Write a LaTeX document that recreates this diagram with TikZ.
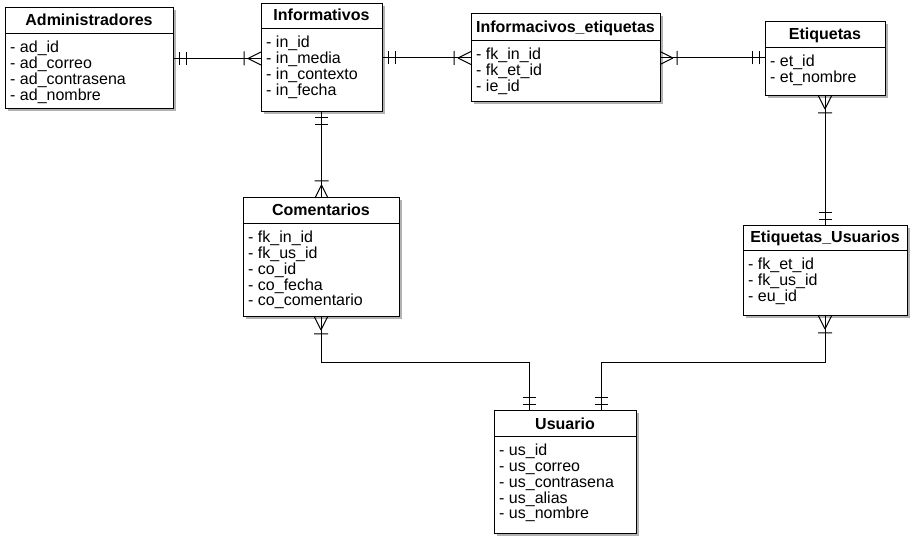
\documentclass[tikz,border=0pt]{standalone}
\usepackage{fontspec}
\setmainfont{Liberation Sans}
\usetikzlibrary{shadows,calc}
\tikzset{
  erframe/.style={draw=black, line width=1pt, fill=white, inner sep=0pt, outer sep=0pt,
    anchor=north west,
    drop shadow={shadow xshift=2.5pt, shadow yshift=-2.5pt, opacity=0.3, fill=black}},
  ertitle/.style={font=\fontsize{16}{16}\selectfont\bfseries, inner sep=0pt, anchor=base},
  erattr/.style={font=\fontsize{16}{15.8}\selectfont, inner sep=0pt, anchor=north west, align=left},
  rel/.style={draw=black, line width=1pt},
  one/.pic={\draw[rel] (6,-6.5)--(6,6.5) (13,-6.5)--(13,6.5);},
  many/.pic={\draw[rel] (17,-7)--(17,7) (13,0)--(0,-6.5) (13,0)--(0,6.5);},
}
% name, x1, y1, x2, y2, header y, title, attributes
\newcommand\ertable[8]{%
  \node[erframe, minimum width={#4-#2}, minimum height={#5-#3}] (#1) at (#2,#3) {};
  \draw[line width=0.9pt] (#2,#6) -- (#4,#6);
  \node[ertitle] (#1-t) at ({(#2+#4)/2},#6-7) {#7};
  \node[erattr] (#1-a) at (#2+5,#6+8) {#8};
}
\begin{document}
\begin{tikzpicture}[x=1pt,y=-1pt]
\useasboundingbox[fill=white] (0,0) rectangle (919,545);

\ertable{adm}{5}{8}{173}{109}{33}{Administradores}{- ad\_id\\- ad\_correo\\- ad\_contrasena\\- ad\_nombre}
\ertable{inf}{261}{4}{382}{112}{28}{Informativos}{- in\_id\\- in\_media\\- in\_contexto\\- in\_fecha}
\ertable{ie}{471}{14}{660}{102}{40}{Informacivos\_etiquetas}{- fk\_in\_id\\- fk\_et\_id\\- ie\_id}
\ertable{etq}{765}{22}{885}{96}{47}{Etiquetas}{- et\_id\\- et\_nombre}
\ertable{com}{243}{198}{399}{317}{223}{Comentarios}{- fk\_in\_id\\- fk\_us\_id\\- co\_id\\- co\_fecha\\- co\_comentario}
\ertable{eu}{743}{226}{907}{316}{250}{Etiquetas\_Usuarios}{- fk\_et\_id\\- fk\_us\_id\\- eu\_id}
\ertable{usu}{494}{411}{636}{533}{436}{Usuario}{- us\_id\\- us\_correo\\- us\_contrasena\\- us\_alias\\- us\_nombre}

% Administradores -- Informativos
\coordinate (a1) at (adm.east);
\coordinate (a2) at (adm.east -| inf.west);
\draw[rel] (a1) -- (a2);
\pic at (a1) {one};
\pic[rotate=180] at (a2) {many};

% Informativos -- Informacivos_etiquetas
\coordinate (b1) at (inf.east);
\coordinate (b2) at (inf.east -| ie.west);
\draw[rel] (b1) -- (b2);
\pic at (b1) {one};
\pic[rotate=180] at (b2) {many};

% Informacivos_etiquetas -- Etiquetas
\coordinate (c1) at (ie.east);
\coordinate (c2) at (ie.east -| etq.west);
\draw[rel] (c1) -- (c2);
\pic at (c1) {many};
\pic[rotate=180] at (c2) {one};

% Informativos -- Comentarios
\coordinate (d1) at (inf.south);
\coordinate (d2) at (inf.south |- com.north);
\draw[rel] (d1) -- (d2);
\pic[rotate=-90] at (d1) {one};
\pic[rotate=90] at (d2) {many};

% Etiquetas -- Etiquetas_Usuarios
\draw[rel] (etq.south) -- (eu.north);
\pic[rotate=-90] at (etq.south) {many};
\pic[rotate=90] at (eu.north) {one};

% Comentarios -- Usuario
\coordinate (u1) at ($(usu.north)+(-36,0)$);
\coordinate (u2) at ($(usu.north)+(36,0)$);
\draw[rel] (com.south) |- ($(u1)+(0,-48)$) -- (u1);
\pic[rotate=-90] at (com.south) {many};
\pic[rotate=90] at (u1) {one};

% Etiquetas_Usuarios -- Usuario
\draw[rel] (eu.south) |- ($(u2)+(0,-48)$) -- (u2);
\pic[rotate=-90] at (eu.south) {many};
\pic[rotate=90] at (u2) {one};
\end{tikzpicture}
\end{document}
